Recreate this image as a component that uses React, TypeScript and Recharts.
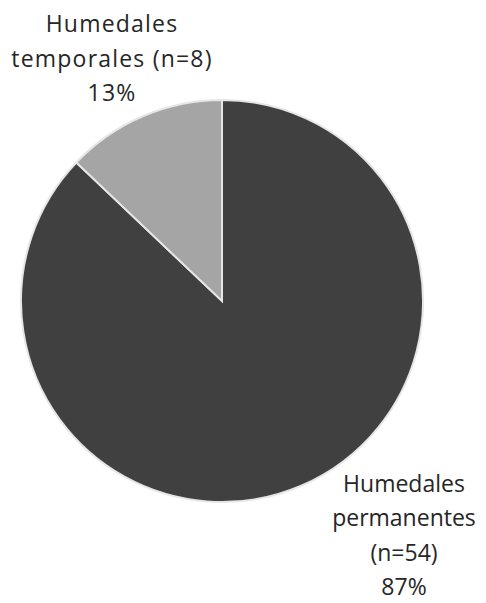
import React from "react";
import { PieChart, Pie, Cell } from "recharts";

const categories = ["Humedales permanentes", "Humedales temporales"];
const counts = [54, 8];
const percents = ["87%", "13%"];
const labelLines = [
  ["Humedales", "permanentes", "(n=54)", "87%"],
  ["Humedales", "temporales (n=8)", "13%"],
];
const colors = ["#404040", "#a5a5a5"];

const data = categories.map((name, i) => ({ name, value: counts[i], pct: percents[i] }));

const labelStyles = [
  { dx: 182, dy: 191, gap: 34.3, spacing: 0 },
  { dx: -110, dy: -269, gap: 34.5, spacing: 1.2 },
];

const renderLabel = (props: any) => {
  const { cx, cy, index } = props;
  const st = labelStyles[index];
  const lines = labelLines[index];
  return (
    <text
      x={cx + st.dx}
      y={cy + st.dy}
      textAnchor="middle"
      fill="#262626"
      fontSize={23}
      letterSpacing={st.spacing}
      fontFamily="'Open Sans', sans-serif"
    >
      {lines.map((l, k) => (
        <tspan key={k} x={cx + st.dx} dy={k === 0 ? 0 : st.gap}>
          {l}
        </tspan>
      ))}
    </text>
  );
};

export default function App() {
  return (
    <div style={{ margin: "-8px", width: 486, height: 603, background: "#ffffff" }}>
      <PieChart width={486} height={603}>
        <Pie
          data={data}
          dataKey="value"
          nameKey="name"
          cx={217}
          cy={296}
          outerRadius={201}
          startAngle={90}
          endAngle={-270}
          stroke="#e6e6e6"
          strokeWidth={2}
          label={renderLabel}
          labelLine={false}
          isAnimationActive={false}
        >
          {data.map((d, i) => (
            <Cell key={d.name} fill={colors[i]} />
          ))}
        </Pie>
      </PieChart>
    </div>
  );
}
